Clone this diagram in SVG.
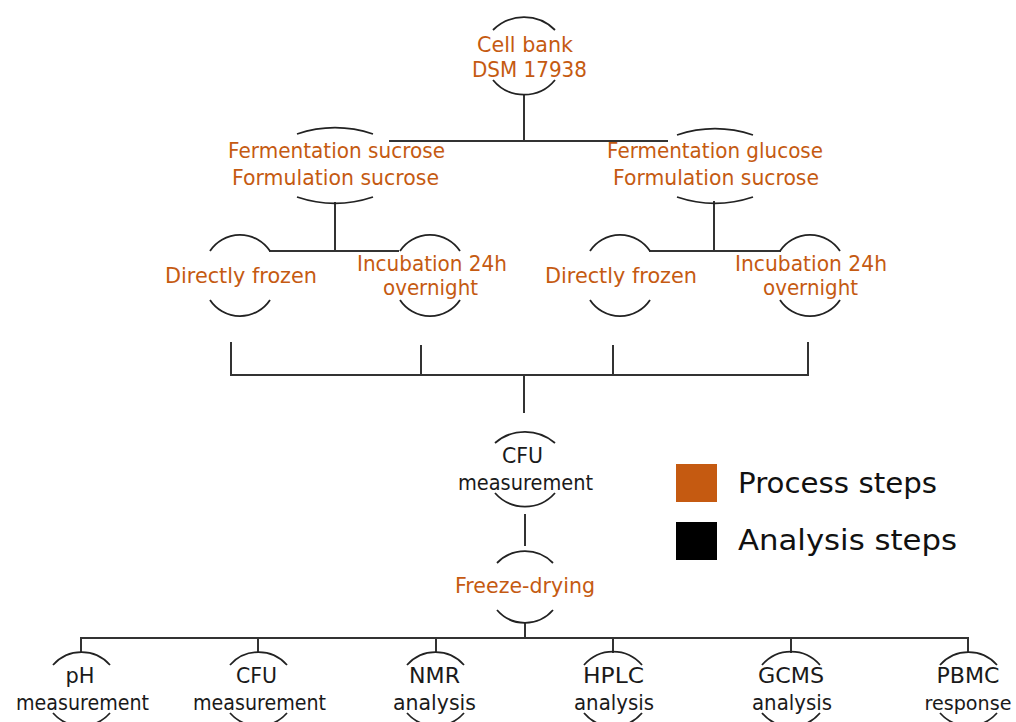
<svg xmlns="http://www.w3.org/2000/svg" width="1016" height="722" viewBox="0 0 1016 722">
<style>
  .arc { fill: none; stroke: #222; stroke-width: 1.8; }
  .ln { fill: none; stroke: #333; stroke-width: 2; stroke-linecap: square; }
  .t { font-family: "DejaVu Sans", "Noto Sans", sans-serif; font-size: 21.5px; text-anchor: middle; }
  .p { fill: #C55A11; }
  .a { fill: #1a1a1a; }
  .lg { font-family: "DejaVu Sans", "Noto Sans", sans-serif; font-size: 29px; fill: #111; }
</style>
<rect width="1016" height="722" fill="#fff"/>
<g id="connectors">
  <path class="ln" d="M524 95 V141 M390 141 H667"/>
  <path class="ln" d="M335 203 V251 M270 251 H398"/>
  <path class="ln" d="M714 202 V251 M650 251 H780"/>
  <path class="ln" d="M231 343 V375 M421 346 V375 M613 346 V375 M808 343 V375 M231 375 H808 M524 375 V412"/>
  <path class="ln" d="M525 515 V545"/>
  <path class="ln" d="M525 623 V638 M81 638 H968 M81 638 V652 M258 638 V652 M436 638 V652 M613 638 V652 M791 638 V652 M968 638 V652"/>
</g>
<g id="cell-bank">
  <path class="arc" d="M493 30 A44 44 0 0 1 555 30"/>
  <path class="arc" d="M493 80 A40 40 0 0 0 555 80"/>
  <text class="t p" x="525" y="52" textLength="96" lengthAdjust="spacingAndGlyphs">Cell bank</text>
  <text class="t p" x="529.5" y="77" textLength="115" lengthAdjust="spacingAndGlyphs">DSM 17938</text>
</g>
<g id="ferm-sucrose">
  <path class="arc" d="M297 134 A120 120 0 0 1 373 134"/>
  <path class="arc" d="M297 197 A120 120 0 0 0 373 197"/>
  <text class="t p" x="336.5" y="158" textLength="217" lengthAdjust="spacingAndGlyphs">Fermentation sucrose</text>
  <text class="t p" x="335.5" y="185" textLength="207" lengthAdjust="spacingAndGlyphs">Formulation sucrose</text>
</g>
<g id="ferm-glucose">
  <path class="arc" d="M677 135 A120 120 0 0 1 753 135"/>
  <path class="arc" d="M677 197 A120 120 0 0 0 753 197"/>
  <text class="t p" x="715" y="158" textLength="216" lengthAdjust="spacingAndGlyphs">Fermentation glucose</text>
  <text class="t p" x="716" y="185" textLength="206" lengthAdjust="spacingAndGlyphs">Formulation sucrose</text>
</g>
<g id="frozen-left">
  <path class="arc" d="M210 251 A36 36 0 0 1 270 251"/>
  <path class="arc" d="M210 300 A36 36 0 0 0 270 300"/>
  <text class="t p" x="241" y="283" textLength="152" lengthAdjust="spacingAndGlyphs">Directly frozen</text>
</g>
<g id="incubation-left">
  <path class="arc" d="M400 251 A36 36 0 0 1 460 251"/>
  <path class="arc" d="M400 300 A36 36 0 0 0 460 300"/>
  <text class="t p" x="432" y="271" textLength="150" lengthAdjust="spacingAndGlyphs">Incubation 24h</text>
  <text class="t p" x="430.5" y="295" textLength="95" lengthAdjust="spacingAndGlyphs">overnight</text>
</g>
<g id="frozen-right">
  <path class="arc" d="M590 251 A36 36 0 0 1 650 251"/>
  <path class="arc" d="M590 300 A36 36 0 0 0 650 300"/>
  <text class="t p" x="621" y="283" textLength="152" lengthAdjust="spacingAndGlyphs">Directly frozen</text>
</g>
<g id="incubation-right">
  <path class="arc" d="M780 251 A36 36 0 0 1 840 251"/>
  <path class="arc" d="M780 300 A36 36 0 0 0 840 300"/>
  <text class="t p" x="811" y="271" textLength="152" lengthAdjust="spacingAndGlyphs">Incubation 24h</text>
  <text class="t p" x="810.5" y="295" textLength="95" lengthAdjust="spacingAndGlyphs">overnight</text>
</g>
<g id="cfu-mid">
  <path class="arc" d="M495 443 A46 46 0 0 1 555 443"/>
  <path class="arc" d="M495 493 A40 40 0 0 0 555 493"/>
  <text class="t a" x="522.5" y="463" textLength="41" lengthAdjust="spacingAndGlyphs">CFU</text>
  <text class="t a" x="525.5" y="490" textLength="135" lengthAdjust="spacingAndGlyphs">measurement</text>
</g>
<g id="freeze-drying">
  <path class="arc" d="M497 563 A39 39 0 0 1 553 563"/>
  <path class="arc" d="M497 610 A37 37 0 0 0 553 610"/>
  <text class="t p" x="525" y="593" textLength="140" lengthAdjust="spacingAndGlyphs">Freeze-drying</text>
</g>
<g id="ph">
  <path class="arc" d="M53 665 A38 38 0 0 1 110 665"/>
  <path class="arc" d="M53 713 A38 38 0 0 0 110 713"/>
  <text class="t a" x="80" y="683" textLength="29" lengthAdjust="spacingAndGlyphs">pH</text>
  <text class="t a" x="82.5" y="710" textLength="133" lengthAdjust="spacingAndGlyphs">measurement</text>
</g>
<g id="cfu-bottom">
  <path class="arc" d="M230 665 A38 38 0 0 1 287 665"/>
  <path class="arc" d="M230 713 A38 38 0 0 0 287 713"/>
  <text class="t a" x="256.5" y="683" textLength="41" lengthAdjust="spacingAndGlyphs">CFU</text>
  <text class="t a" x="259.5" y="710" textLength="133" lengthAdjust="spacingAndGlyphs">measurement</text>
</g>
<g id="nmr">
  <path class="arc" d="M407 665 A38 38 0 0 1 464 665"/>
  <path class="arc" d="M407 713 A38 38 0 0 0 464 713"/>
  <text class="t a" x="434.5" y="683" textLength="51" lengthAdjust="spacingAndGlyphs">NMR</text>
  <text class="t a" x="434.5" y="710" textLength="83" lengthAdjust="spacingAndGlyphs">analysis</text>
</g>
<g id="hplc">
  <path class="arc" d="M584 665 A38 38 0 0 1 642 665"/>
  <path class="arc" d="M584 713 A38 38 0 0 0 642 713"/>
  <text class="t a" x="613.5" y="683" textLength="61" lengthAdjust="spacingAndGlyphs">HPLC</text>
  <text class="t a" x="614" y="710" textLength="80" lengthAdjust="spacingAndGlyphs">analysis</text>
</g>
<g id="gcms">
  <path class="arc" d="M762 665 A38 38 0 0 1 820 665"/>
  <path class="arc" d="M762 713 A38 38 0 0 0 820 713"/>
  <text class="t a" x="791" y="683" textLength="66" lengthAdjust="spacingAndGlyphs">GCMS</text>
  <text class="t a" x="792" y="710" textLength="80" lengthAdjust="spacingAndGlyphs">analysis</text>
</g>
<g id="pbmc">
  <path class="arc" d="M940 665 A38 38 0 0 1 997 665"/>
  <path class="arc" d="M940 713 A38 38 0 0 0 997 713"/>
  <text class="t a" x="968" y="683" textLength="63" lengthAdjust="spacingAndGlyphs">PBMC</text>
  <text class="t a" x="968" y="710" style="font-size:19.5px" textLength="87" lengthAdjust="spacingAndGlyphs">response</text>
</g>
<g id="legend">
  <rect x="676" y="464" width="41" height="38" fill="#C55A11"/>
  <rect x="676" y="522" width="41" height="38" fill="#000"/>
  <text class="lg" x="738" y="493" textLength="199" lengthAdjust="spacingAndGlyphs">Process steps</text>
  <text class="lg" x="738" y="550" textLength="219" lengthAdjust="spacingAndGlyphs">Analysis steps</text>
</g>
</svg>
